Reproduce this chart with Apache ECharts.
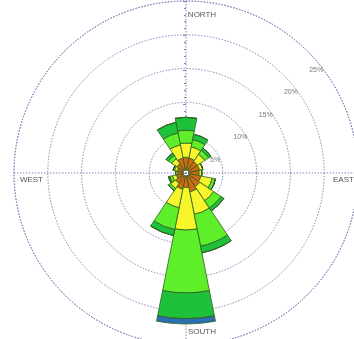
<!DOCTYPE html>
<html><head><meta charset="utf-8">
<script src="https://cdn.jsdelivr.net/npm/echarts@6/dist/echarts.min.js"></script>
<style>html,body{margin:0;padding:0;background:#fff}#c{width:354px;height:339px}</style>
</head><body><div id="c"></div>
<script>
const directions = ['N','NNE','NE','ENE','E','ESE','SE','SSE','S','SSW','SW','WSW','W','WNW','NW','NNW'];
const compassLabels = ['NORTH','EAST','SOUTH','WEST'];
const percentTicks = [5, 10, 15, 20, 25];
// frequency (%) of each speed class per direction
const speedClass1 = [1.9, 1.8, 1.6, 1.6, 1.5, 1.8, 2.0, 2.4, 1.7, 2.0, 1.4, 1.0, 0.8, 0.9, 1.2, 1.8];
const speedClass2 = [2.1, 1.7, 1.3, 0.5, 0.4, 1.7, 2.5, 3.4, 6.3, 2.8, 0.9, 0.6, 0.3, 0.4, 0.9, 2.0];
const speedClass3 = [1.9, 1.1, 0.7, 0.0, 0.0, 0.5, 1.3, 4.8, 9.3, 3.3, 0.4, 0.4, 0.0, 0.2, 0.6, 1.8];
const speedClass4 = [1.9, 0.8, 0.4, 0.0, 0.0, 0.0, 0.5, 1.0, 3.8, 0.9, 0.0, 0.2, 0.0, 0.0, 0.4, 1.6];
const speedClass5 = [0.0, 0.0, 0.0, 0.0, 0.0, 0.0, 0.0, 0.0, 0.8, 0.0, 0.0, 0.0, 0.0, 0.0, 0.0, 0.0];

const classes = [speedClass1, speedClass2, speedClass3, speedClass4, speedClass5];
const colors = ['#d06a10', '#f6f62a', '#5fee2a', '#1ec23a', '#2a6fb0'];
const gridColor = '#7c7cb8';
const gridLine = {color: gridColor, type: [1.4, 1.6], width: 1};
const C = [186, 173];
const R = 172;
const percentMax = 25;
const labelAngle = 48.4; // compass degrees of the percent-label line

const chart = echarts.init(document.getElementById('c'), null, {renderer: 'canvas'});
chart.setOption({
  animation: false,
  backgroundColor: '#fff',
  polar: [
    {center: C, radius: [3, R]},
    {center: C, radius: [3, R]},
    {center: C, radius: [0, R]}
  ],
  angleAxis: [
    {polarIndex: 0, type: 'category', data: directions, startAngle: 90 + 360 / 32, clockwise: true,
     axisLine: {show: false}, axisTick: {show: false}, axisLabel: {show: false}, splitLine: {show: false}, z: 1},
    {polarIndex: 1, type: 'value', min: 0, max: 360, startAngle: 90, clockwise: true,
     axisLine: {show: true, lineStyle: gridLine},
     axisTick: {show: false}, axisLabel: {show: false}, splitLine: {show: false}},
    {polarIndex: 2, type: 'category', data: compassLabels, boundaryGap: false, startAngle: 90, clockwise: true,
     axisLine: {show: false}, axisTick: {show: false},
     splitLine: {show: true, lineStyle: gridLine},
     axisLabel: {show: true, margin: -29, color: '#555', fontSize: 8, fontFamily: 'Liberation Sans, Arial',
       formatter: function (v) { return '{' + v.charAt(0).toLowerCase() + '|' + v + '}'; },
       rich: {
         n: {padding: [0, 0, 11, 32], fontSize: 8, color: '#555'},
         e: {padding: [14, 0, 0, 4], fontSize: 8, color: '#555'},
         s: {padding: [12, 0, 0, 32], fontSize: 8, color: '#555'},
         w: {padding: [14, 0, 0, 0], fontSize: 8, color: '#555'}
       }}}
  ],
  radiusAxis: [
    {polarIndex: 0, type: 'value', min: 0, max: percentMax, show: false},
    {polarIndex: 1, type: 'value', min: 0, max: percentMax, interval: 5,
     axisLine: {show: false}, axisTick: {show: false}, axisLabel: {show: false},
     splitLine: {show: true, lineStyle: gridLine}},
    {polarIndex: 2, type: 'value', min: 0, max: percentMax, interval: 5,
     axisLine: {show: false}, axisLabel: {show: false}, splitLine: {show: false},
     axisTick: {show: true, length: 3, lineStyle: {color: gridColor}},
     minorTick: {show: true, splitNumber: 5, length: 2, lineStyle: {color: gridColor}}}
  ],
  series: classes.map(function (vals, i) {
    return {
      type: 'bar', coordinateSystem: 'polar', polarIndex: 0, stack: 'wind',
      data: vals, barCategoryGap: '0%', z: 3,
      itemStyle: {color: colors[i], borderColor: '#2e5e22', borderWidth: 0.8}
    };
  }).concat([{
    type: 'scatter', coordinateSystem: 'polar', polarIndex: 1, z: 6,
    data: percentTicks.map(function (t) { return [t, labelAngle]; }),
    symbol: 'circle', symbolSize: 1, itemStyle: {color: 'rgba(0,0,0,0)'}, silent: true,
    label: {show: true, position: 'inside', offset: [1.6, 11], color: '#555', fontSize: 7,
      fontFamily: 'Liberation Sans, Arial',
      formatter: function (p) { return p.value[0] + '%'; }}
  }])
});
</script>
</body></html>
